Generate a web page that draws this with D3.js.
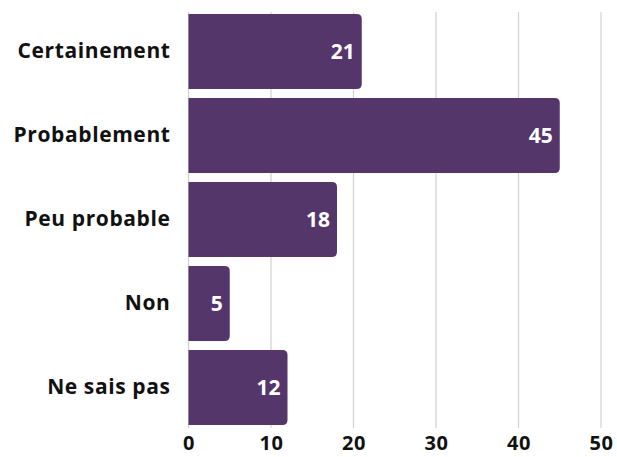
<!DOCTYPE html>
<html><head><meta charset="utf-8">
<script src="https://cdn.jsdelivr.net/npm/d3@7"></script>
<style>body{margin:0;background:#fff;}svg{display:block;font-family:"Open Sans",sans-serif;}</style>
</head><body><svg id="c" width="617" height="457"></svg>
<script>
const categories = ["Certainement","Probablement","Peu probable","Non","Ne sais pas"];
const values = [21,45,18,5,12];
const ticks = [0,10,20,30,40,50];

const svg = d3.select("#c");
const x = d3.scaleLinear().domain([0,50]).range([188.5,601]);
const y = d3.scaleBand().domain(categories).range([14,425]).paddingInner(9/84).paddingOuter(0);
const color = "#55366b";
const fs = 21;

// grid
svg.append("g").selectAll("line").data(ticks).join("line")
  .attr("x1",d=>x(d)).attr("x2",d=>x(d)).attr("y1",12).attr("y2",428)
  .attr("stroke","#d0d0d0").attr("stroke-width",1.2);

// bars with rounded right corners
const r = 5;
svg.append("g").selectAll("path").data(values).join("path")
  .attr("d",(d,i)=>{
    const x0=x(0), x1=x(d), y0=y(categories[i]), h=y.bandwidth();
    return `M${x0},${y0}H${x1-r}Q${x1},${y0} ${x1},${y0+r}V${y0+h-r}Q${x1},${y0+h} ${x1-r},${y0+h}H${x0}Z`;
  })
  .attr("fill",color);

// value labels
svg.append("g").selectAll("text").data(values).join("text")
  .attr("x",d=>x(d)-7).attr("y",(d,i)=>y(categories[i])+y.bandwidth()/2)
  .attr("dy","0.36em").attr("text-anchor","end")
  .attr("fill","#fff").attr("font-weight",700).attr("font-size",fs)
  .text(d=>d);

// category axis
const ya = d3.axisLeft(y).tickSize(0).tickPadding(18);
const gy = svg.append("g").attr("transform",`translate(${x(0)},0)`).call(ya);
gy.select(".domain").remove();
gy.selectAll("text").attr("font-size",fs).attr("font-weight",700).attr("fill","#111")
  .attr("letter-spacing","0.6px").attr("font-family","Open Sans, sans-serif");

// value axis
const xa = d3.axisBottom(x).tickValues(ticks).tickSize(0).tickPadding(0);
const gx = svg.append("g").attr("transform",`translate(0,0)`).call(xa);
gx.select(".domain").remove();
gx.selectAll("text").attr("y",450).attr("dy",null).attr("font-size",20).attr("font-weight",700).attr("fill","#111")
  .attr("letter-spacing","0.5px").attr("font-family","Open Sans, sans-serif");
</script></body></html>
